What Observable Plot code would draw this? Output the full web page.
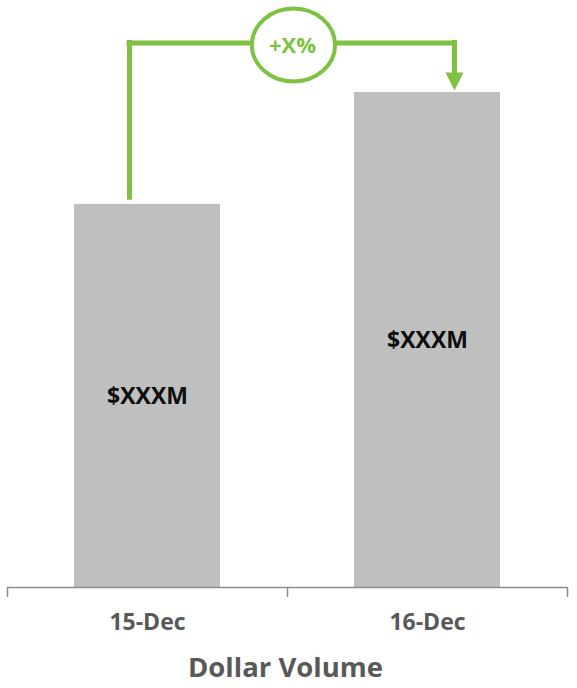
<!DOCTYPE html>
<html><head><meta charset="utf-8">
<script src="https://cdn.jsdelivr.net/npm/d3@7"></script>
<script src="https://cdn.jsdelivr.net/npm/@observablehq/plot@0.6"></script>
<style>body{margin:0;background:#fff} svg{display:block}</style>
</head><body><div id="chart"></div>
<script>
const categories = ["15-Dec", "16-Dec"];
const values = [77.4, 100];
const barLabels = ["$XXXM", "$XXXM"];
const changeLabel = "+X%";
const bracketLevel = 110;
const title = "Dollar Volume";

const W = 577, H = 688, mL = 7, mR = 10, mT = 92, mB = 101;
const step = (W - mL - mR) / categories.length;
const green = "#7DC242";
const font = "'Open Sans', Lato, sans-serif";
const rows = categories.map((c, i) => ({cat: c, value: values[i], label: barLabels[i]}));

const ellipse = {draw(ctx, size) {
  const r = Math.sqrt(size / Math.PI), rx = r * 1.14, ry = r, k = 0.5523;
  ctx.moveTo(rx, 0);
  ctx.bezierCurveTo(rx, k * ry, k * rx, ry, 0, ry);
  ctx.bezierCurveTo(-k * rx, ry, -rx, k * ry, -rx, 0);
  ctx.bezierCurveTo(-rx, -k * ry, -k * rx, -ry, 0, -ry);
  ctx.bezierCurveTo(k * rx, -ry, rx, -k * ry, rx, 0);
  ctx.closePath();
}};
const arrowDown = {draw(ctx) {
  ctx.moveTo(-9, -18); ctx.lineTo(9, -18); ctx.lineTo(0, 0); ctx.closePath();
}};

const chart = Plot.plot({
  width: W, height: H,
  marginLeft: mL, marginRight: mR, marginTop: mT, marginBottom: mB,
  style: {fontFamily: font, background: "#fff"},
  x: {domain: categories, paddingInner: 0.48, paddingOuter: 0.24, axis: null},
  y: {domain: [0, 100], axis: null},
  marks: [
    Plot.barY(rows, {x: "cat", y: "value", fill: "#BFBFBF"}),
    Plot.ruleY([0], {stroke: "#8C8C8C", strokeWidth: 1.5}),
    Plot.ruleX(categories, {x: d => d, y1: 0, y2: 0, insetBottom: -10, dx: -step / 2, stroke: "#8C8C8C", strokeWidth: 1.5}),
    Plot.ruleX([categories[categories.length - 1]], {x: d => d, y1: 0, y2: 0, insetBottom: -10, dx: step / 2, stroke: "#8C8C8C", strokeWidth: 1.5}),
    Plot.text(rows, {x: "cat", y: d => d.value / 2, dy: 1, text: "label", fontSize: 23, fontWeight: "bold", fill: "#0D0D0D"}),
    Plot.text(rows, {x: "cat", frameAnchor: "bottom", lineAnchor: "middle", dy: 35, text: "cat", fontSize: 23, fontWeight: "bold", fill: "#595959"}),
    Plot.text([title], {frameAnchor: "bottom", lineAnchor: "middle", dy: 81, dx: -2, text: d => d, fontSize: 27.5, fontWeight: "bold", fill: "#595959"}),
    // bracket annotation
    Plot.ruleX([rows[0]], {x: "cat", y1: () => bracketLevel, y2: "value", insetBottom: 6.5, dx: -18, stroke: green, strokeWidth: 5, strokeLinecap: "square"}),
    Plot.ruleY([bracketLevel], {y: d => d, x1: () => categories[0], x2: () => categories[1], insetLeft: 55, insetRight: 47, stroke: green, strokeWidth: 5, strokeLinecap: "square"}),
    Plot.ruleX([rows[1]], {x: "cat", y1: () => bracketLevel, y2: "value", insetBottom: 16, dx: 27, stroke: green, strokeWidth: 5, strokeLinecap: "square"}),
    Plot.dot([rows[1]], {x: "cat", y: "value", dx: 27, dy: -2, r: 10, symbol: arrowDown, fill: green, stroke: "none"}),
    Plot.dot([changeLabel], {x: () => categories[0], y: () => bracketLevel, dx: step / 2 + 6, dy: 2, r: 36.5, symbol: ellipse, fill: "#fff", stroke: green, strokeWidth: 4}),
    Plot.text([changeLabel], {x: () => categories[0], y: () => bracketLevel, dx: step / 2 + 5, dy: 3, text: d => d, fontSize: 22, fontWeight: "bold", fill: green})
  ]
});
document.getElementById("chart").appendChild(chart);
</script>
</body></html>
